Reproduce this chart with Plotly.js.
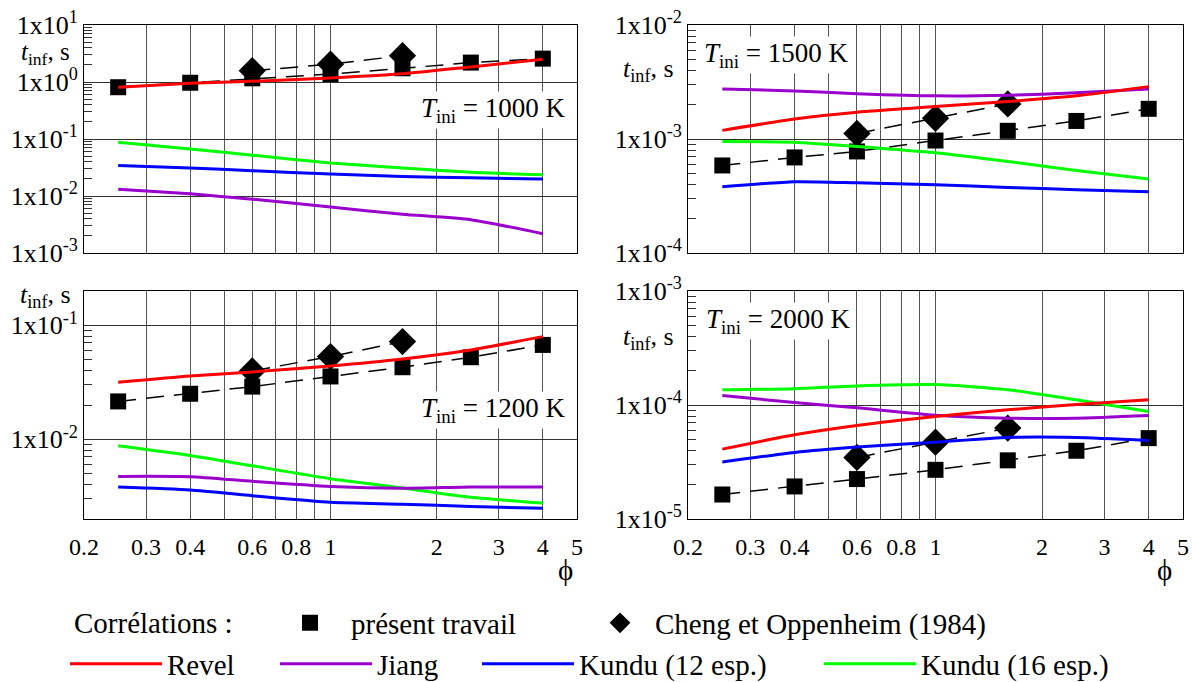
<!DOCTYPE html>
<html><head><meta charset="utf-8">
<script src="https://cdn.plot.ly/plotly-3.0.1.min.js"></script>
<style>html,body{margin:0;padding:0;background:#fff}</style>
</head><body><div id="chart" style="width:1192px;height:682px"></div>
<script>
// ---------------- data ----------------
const phi = [0.25, 0.4, 0.6, 1, 1.6, 2.5, 4];
const phiCheng = [0.6, 1, 1.6];

// T_ini = 1000 K
const present1000 = [0.81, 0.97, 1.16, 1.38, 1.74, 2.19, 2.57];
const cheng1000 = [1.58, 2.05, 2.9];
const revel1000 = [0.81, 0.95, 1.03, 1.18, 1.39, 1.84, 2.5];
const jiang1000 = [0.0132, 0.0109, 0.0088, 0.0064, 0.0048, 0.00384, 0.00218];
const kundu12_1000 = [0.0344, 0.031, 0.0277, 0.0242, 0.022, 0.0209, 0.0198];
const kundu16_1000 = [0.088, 0.067, 0.052, 0.038, 0.031, 0.026, 0.0236];

// T_ini = 1500 K
const present1500 = [5.86e-4, 6.89e-4, 7.78e-4, 9.7e-4, 1.18e-3, 1.44e-3, 1.84e-3];
const cheng1500 = [1.12e-3, 1.52e-3, 2.03e-3];
const revel1500 = [1.19e-3, 1.5e-3, 1.72e-3, 1.93e-3, 2.13e-3, 2.39e-3, 2.88e-3];
const jiang1500 = [2.75e-3, 2.64e-3, 2.5e-3, 2.39e-3, 2.42e-3, 2.54e-3, 2.75e-3];
const kundu12_1500 = [3.81e-4, 4.22e-4, 4.13e-4, 3.97e-4, 3.76e-4, 3.59e-4, 3.44e-4];
const kundu16_1500 = [9.5e-4, 9.38e-4, 8.6e-4, 7.57e-4, 6.35e-4, 5.3e-4, 4.45e-4];

// T_ini = 1200 K
const present1200 = [0.0215, 0.0251, 0.029, 0.0356, 0.0429, 0.0525, 0.0673];
const cheng1200 = [0.0398, 0.0532, 0.072];
const revel1200 = [0.0317, 0.036, 0.039, 0.044, 0.0507, 0.0608, 0.0796];
const jiang1200 = [0.00473, 0.0047, 0.00428, 0.00386, 0.00372, 0.00381, 0.00381];
const kundu12_1200 = [0.00381, 0.00359, 0.0032, 0.0028, 0.0027, 0.00258, 0.00248];
const kundu16_1200 = [0.00877, 0.00722, 0.00586, 0.00451, 0.00374, 0.0031, 0.00276];

// T_ini = 2000 K
const present2000 = [1.64e-5, 1.93e-5, 2.24e-5, 2.7e-5, 3.27e-5, 3.97e-5, 5.12e-5];
const cheng2000 = [3.47e-5, 4.72e-5, 6.27e-5];
const revel2000 = [4.1e-5, 5.48e-5, 6.61e-5, 7.92e-5, 9.07e-5, 1.01e-4, 1.11e-4];
const jiang2000 = [1.21e-4, 1.05e-4, 9.44e-5, 8.15e-5, 7.67e-5, 7.67e-5, 8.1e-5];
const kundu12_2000 = [3.16e-5, 3.84e-5, 4.28e-5, 4.72e-5, 5.19e-5, 5.19e-5, 4.89e-5];
const kundu16_2000 = [1.36e-4, 1.39e-4, 1.47e-4, 1.51e-4, 1.36e-4, 1.11e-4, 8.77e-5];

// ticks
const xTickVals = [0.2, 0.3, 0.4, 0.5, 0.6, 0.7, 0.8, 0.9, 1, 2, 3, 4, 5];
const xTickText = ['0.2', '0.3', '0.4', '', '0.6', '', '0.8', '', '1', '2', '3', '4', '5'];
const yTicks1000 = [1e-3, 1e-2, 1e-1, 1, 10];
const yText1000 = ['1x10<sup>-3</sup>', '1x10<sup>-2</sup>', '1x10<sup>-1</sup>', '1x10<sup>0</sup>', '1x10<sup>1</sup>'];
const yTicks1500 = [1e-4, 1e-3, 1e-2];
const yText1500 = ['1x10<sup>-4</sup>', '1x10<sup>-3</sup>', '1x10<sup>-2</sup>'];
const yTicks1200 = [1e-2, 1e-1];
const yText1200 = ['1x10<sup>-2</sup>', '1x10<sup>-1</sup>'];
const yTicks2000 = [1e-5, 1e-4, 1e-3];
const yText2000 = ['1x10<sup>-5</sup>', '1x10<sup>-4</sup>', '1x10<sup>-3</sup>'];

const panelLabels = ['<i>T</i><sub>ini</sub> = 1000 K', '<i>T</i><sub>ini</sub> = 1500 K',
                     '<i>T</i><sub>ini</sub> = 1200 K', '<i>T</i><sub>ini</sub> = 2000 K'];
const yTitle = '<i>t</i><sub>inf</sub>, s';
const seriesNames = ['présent travail', 'Cheng et Oppenheim (1984)', 'Revel', 'Jiang', 'Kundu (12 esp.)', 'Kundu (16 esp.)'];

// ---------------- styling ----------------
const FAMILY = 'Liberation Serif';
function mkFont(size) { return {family: FAMILY, size: size, color: 'black'}; }
const C_REVEL = '#ff0000', C_JIANG = '#9900cc', C_K12 = '#0000ff', C_K16 = '#00ff00';
const W = 1192, H = 682;

const panels = [
  {sfx: '', present: present1000, cheng: cheng1000, revel: revel1000, jiang: jiang1000, k12: kundu12_1000, k16: kundu16_1000},
  {sfx: '2', present: present1500, cheng: cheng1500, revel: revel1500, jiang: jiang1500, k12: kundu12_1500, k16: kundu16_1500},
  {sfx: '3', present: present1200, cheng: cheng1200, revel: revel1200, jiang: jiang1200, k12: kundu12_1200, k16: kundu16_1200},
  {sfx: '4', present: present2000, cheng: cheng2000, revel: revel2000, jiang: jiang2000, k12: kundu12_2000, k16: kundu16_2000}
];

const traces = [];
panels.forEach((p, i) => {
  const xa = 'x' + p.sfx, ya = 'y' + p.sfx;
  const first = i === 0;
  const dash = {color: 'black', width: 1.5, dash: '18px,10px'};
  traces.push({x: phi, y: p.present, xaxis: xa, yaxis: ya, mode: 'lines', line: dash, showlegend: false, hoverinfo: 'skip'});
  traces.push({x: phiCheng, y: p.cheng, xaxis: xa, yaxis: ya, mode: 'lines', line: dash, showlegend: false, hoverinfo: 'skip'});
  traces.push({x: phiCheng, y: p.cheng, xaxis: xa, yaxis: ya, mode: 'markers', name: seriesNames[1],
    marker: {symbol: 'diamond', size: 21, color: 'black'}, showlegend: first, legend: 'legend2'});
  traces.push({x: phi, y: p.present, xaxis: xa, yaxis: ya, mode: 'markers', name: seriesNames[0],
    marker: {symbol: 'square', size: 16, color: 'black'}, showlegend: first, legend: 'legend'});
  const lineDefs = [
    [p.k16, C_K16, seriesNames[5], 'legend6'],
    [p.k12, C_K12, seriesNames[4], 'legend5'],
    [p.jiang, C_JIANG, seriesNames[3], 'legend4'],
    [p.revel, C_REVEL, seriesNames[2], 'legend3']
  ];
  lineDefs.forEach(([vals, col, nm, lg]) => {
    traces.push({x: phi, y: vals, xaxis: xa, yaxis: ya, mode: 'lines', name: nm,
      line: {color: col, width: 3, shape: 'spline', smoothing: 0.6}, showlegend: first, legend: lg});
  });
});

const xL = [84 / W, 577 / W], xR = [688 / W, 1183 / W];
const yT = [(H - 253) / H, (H - 25) / H], yB = [(H - 519) / H, (H - 291) / H];

function xAxis(domain, anchor, labels) {
  return {domain, anchor, type: 'log', range: [Math.log10(0.2), Math.log10(5)],
    tickmode: 'array', tickvals: xTickVals, ticktext: xTickText, showticklabels: labels,
    ticks: '', ticklabelstandoff: 6, showgrid: true, gridcolor: '#555', gridwidth: 1, zeroline: false,
    showline: true, linecolor: 'black', linewidth: 1, mirror: true,
    tickfont: mkFont(24)};
}
function yAxis(domain, anchor, range, vals, text) {
  return {domain, anchor, type: 'log', range, tickmode: 'array', tickvals: vals, ticktext: text,
    ticks: 'inside', ticklen: 14, tickcolor: '#333', showgrid: true, gridcolor: '#333', gridwidth: 1,
    zeroline: false, showline: true, linecolor: 'black', linewidth: 1, mirror: true,
    minor: {ticks: 'inside', ticklen: 8, tickcolor: '#333', showgrid: false, dtick: 'D1'},
    tickfont: mkFont(26)};
}

function px(xp) { return xp / W; }
function py(yp) { return (H - yp) / H; }

const annotations = [
  {text: panelLabels[0], x: px(493), y: py(110), bgcolor: 'white'},
  {text: panelLabels[1], x: px(776), y: py(55), bgcolor: 'white'},
  {text: panelLabels[2], x: px(493), y: py(410), bgcolor: 'white'},
  {text: panelLabels[3], x: px(778), y: py(321), bgcolor: 'white'},
  {text: yTitle, x: px(45), y: py(53), font: mkFont(25)},
  {text: yTitle, x: px(648), y: py(70), font: mkFont(26)},
  {text: yTitle, x: px(45), y: py(296), font: mkFont(26)},
  {text: yTitle, x: px(648), y: py(338), font: mkFont(26)},
  {text: 'ϕ', x: px(565), y: py(570), font: mkFont(29)},
  {text: 'ϕ', x: px(1164), y: py(570), font: mkFont(29)},
  {text: 'Corrélations :', x: px(72), y: py(623), xanchor: 'left', font: mkFont(29)}
].map(a => Object.assign({xref: 'paper', yref: 'paper', showarrow: false, font: mkFont(27),
  borderpad: 1, xanchor: 'center', yanchor: 'middle'}, a));

function legendAt(xp, yp, iw) {
  return {x: px(xp), y: py(yp), xanchor: 'left', yanchor: 'middle', orientation: 'h',
    bgcolor: 'rgba(0,0,0,0)', borderwidth: 0, itemwidth: iw,
    font: mkFont(29)};
}

const layout = {
  width: W, height: H, margin: {l: 0, r: 0, t: 0, b: 0, autoexpand: false},
  paper_bgcolor: 'white', plot_bgcolor: 'white',
  font: mkFont(20),
  xaxis: xAxis(xL, 'y', false), yaxis: yAxis(yT, 'x', [-3, 1], yTicks1000, yText1000),
  xaxis2: xAxis(xR, 'y2', false), yaxis2: yAxis(yT, 'x2', [-4, -2], yTicks1500, yText1500),
  xaxis3: xAxis(xL, 'y3', true), yaxis3: yAxis(yB, 'x3', [Math.log10(0.002), Math.log10(0.2)], yTicks1200, yText1200),
  xaxis4: xAxis(xR, 'y4', true), yaxis4: yAxis(yB, 'x4', [-5, -3], yTicks2000, yText2000),
  annotations,
  legend: legendAt(269, 623, 72),
  legend2: legendAt(585, 623, 60),
  legend3: legendAt(65, 664, 92),
  legend4: legendAt(275, 664, 92),
  legend5: legendAt(477, 664, 92),
  legend6: legendAt(819, 664, 92)
};

Plotly.newPlot('chart', traces, layout, {displayModeBar: false, staticPlot: true});
</script>
</body></html>
